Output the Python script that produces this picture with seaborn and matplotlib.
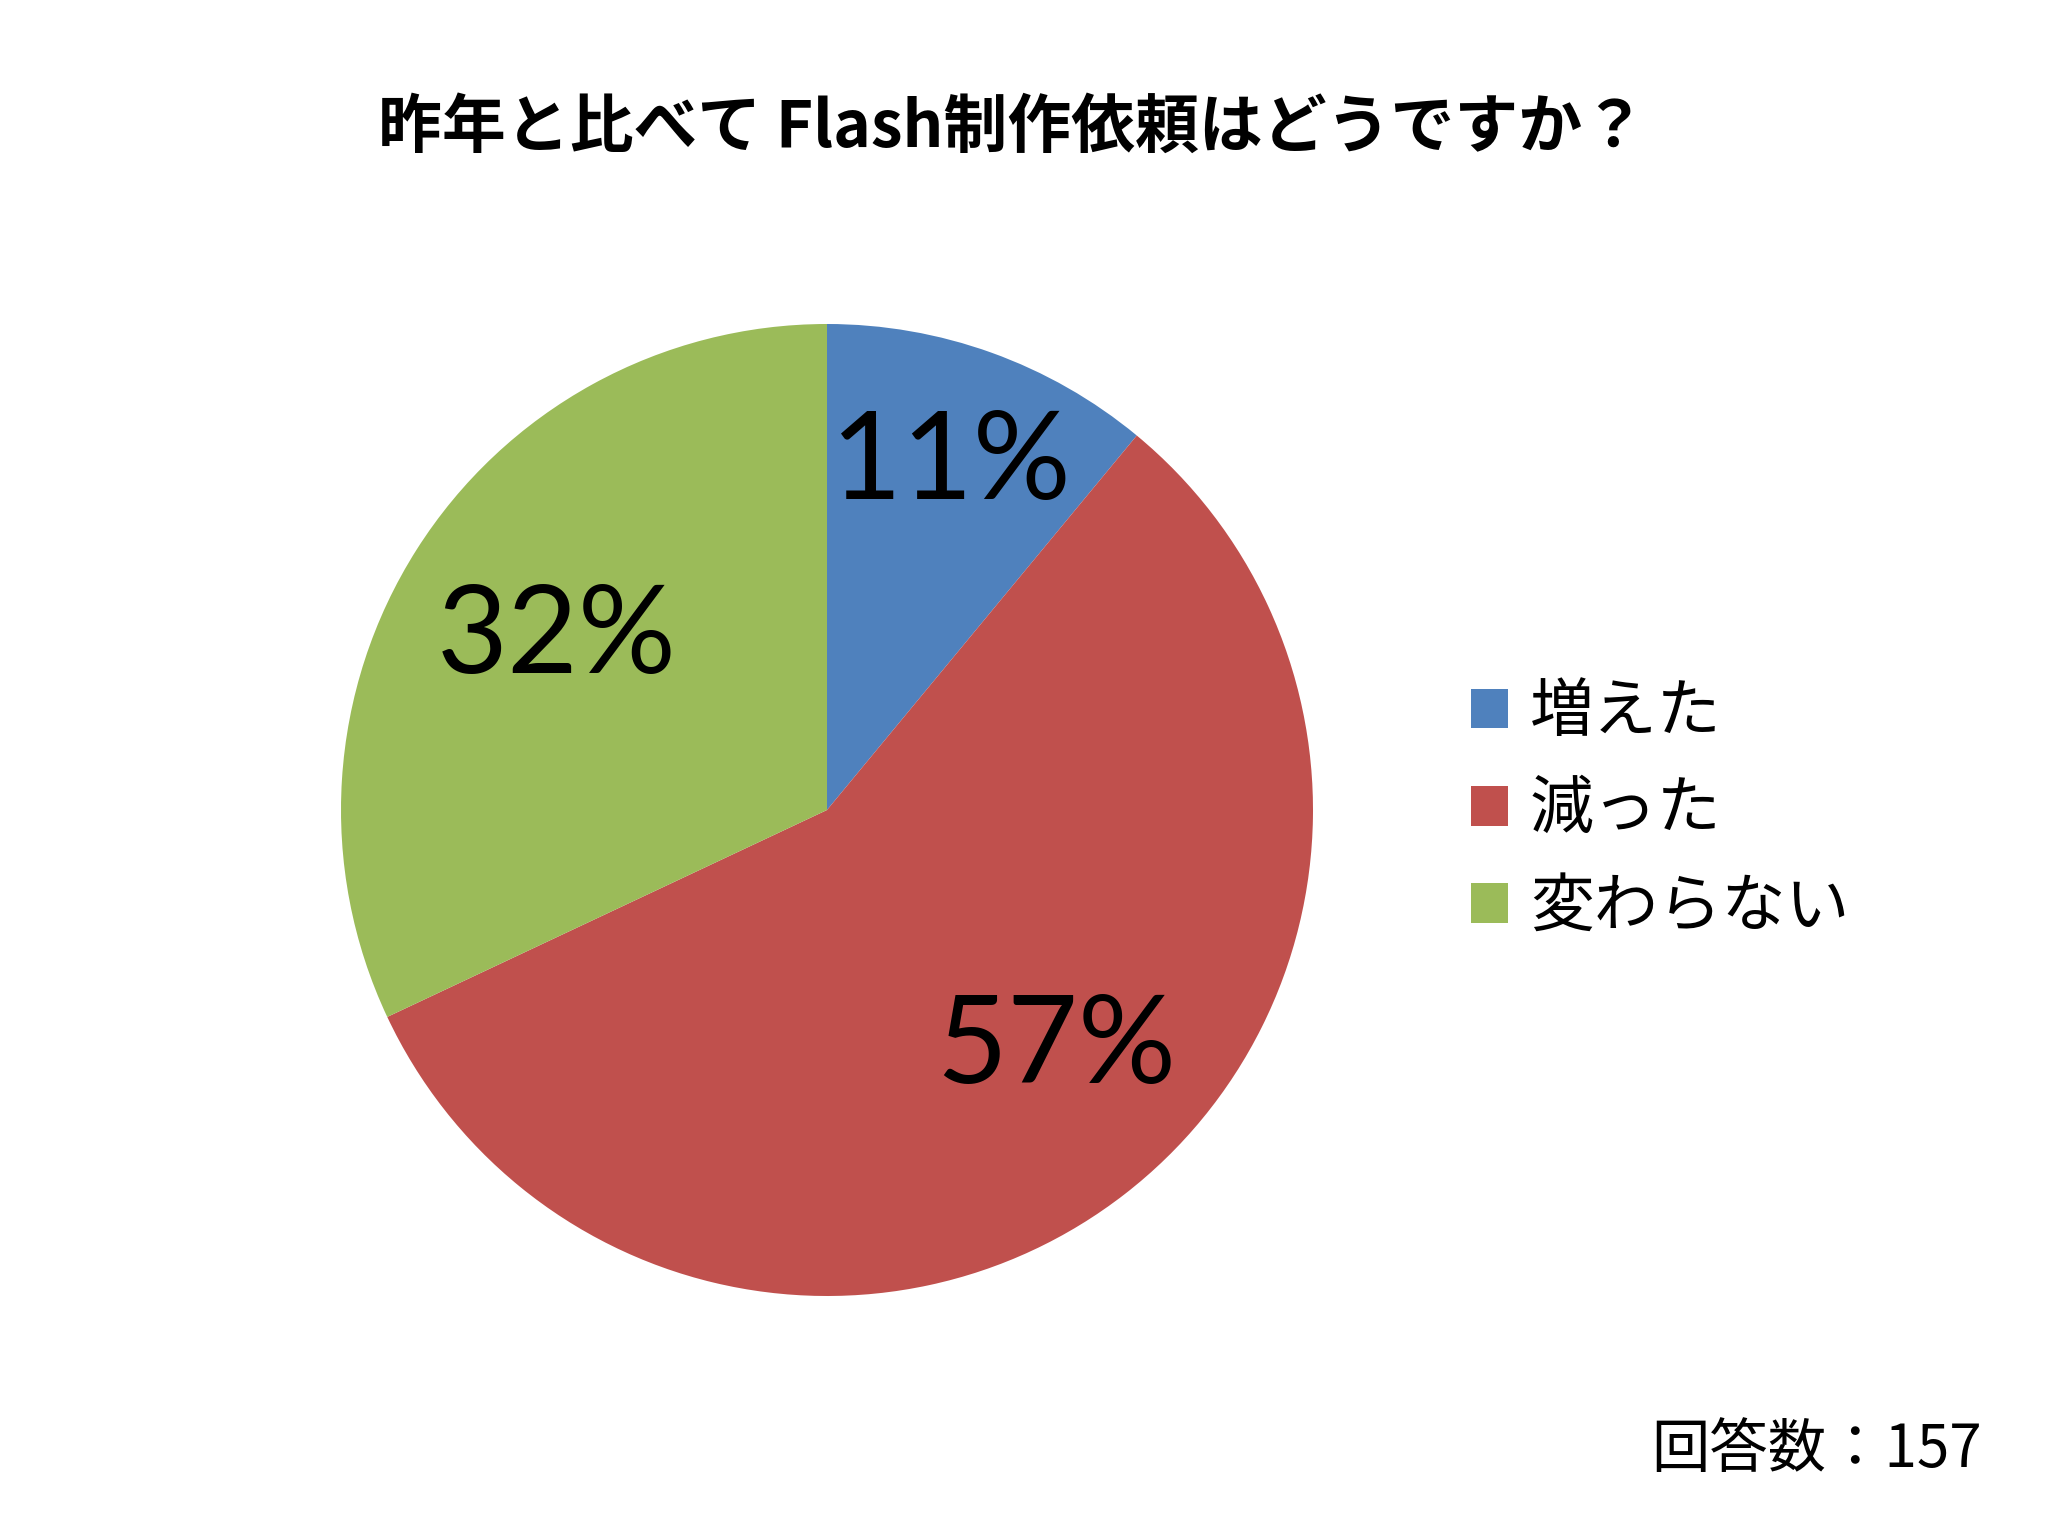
import matplotlib
matplotlib.use("Agg")
import matplotlib.pyplot as plt
import matplotlib.patches as mpatches
import numpy as np
import seaborn as sns

# ---- data ----
categories = ["増えた", "減った", "変わらない"]
percents = [11, 57, 32]
colors = ["#4F81BD", "#C0504D", "#9BBB59"]
title_text = "昨年と比べて Flash制作依頼はどうですか？"
note_text = "回答数：157"

sns.set_theme(style="white")
plt.rcParams['font.family'] = ['Noto Sans CJK JP', 'DejaVu Sans']
plt.rcParams['text.color'] = 'black'

W, H = 2048, 1536
fig = plt.figure(figsize=(W / 100, H / 100), dpi=100)
fig.patch.set_facecolor("white")

cx, cy, r = 827, 810, 486
ax = fig.add_axes([(cx - r) / W, 1 - (cy + r) / H, 2 * r / W, 2 * r / H])
wedges, _ = ax.pie(percents, colors=colors, startangle=90, counterclock=False,
                   radius=1, wedgeprops=dict(linewidth=0))
ax.set_xlim(-1, 1)
ax.set_ylim(-1, 1)
ax.set_aspect("equal")
ax.axis("off")

label_dist = [0.755, 0.68, 0.66]
label_rot = [0, 6, 0]
for w, p, d, rot in zip(wedges, percents, label_dist, label_rot):
    ang = np.deg2rad((w.theta1 + w.theta2) / 2 + rot)
    ax.text(d * np.cos(ang), d * np.sin(ang), f"{p}%", ha="center", va="center",
            fontsize=88, family=["Lato", "DejaVu Sans"], color="black")

fig.text(1012 / W, 1 - 128 / H, title_text, ha="center", va="center",
         fontsize=46, fontweight="bold", color="black")

handles = [mpatches.Patch(facecolor=c, edgecolor="none") for c in colors]
leg = fig.legend(handles, categories, loc="center left",
                 bbox_to_anchor=(1471 / W, 1 - 810 / H), frameon=False,
                 fontsize=46, handlelength=0.58, handleheight=0.58,
                 handletextpad=0.34, labelspacing=0.48, borderaxespad=0, borderpad=0)
for t in leg.get_texts():
    t.set_color("black")

fig.text(1982 / W, 1 - 1450 / H, note_text, ha="right", va="center", fontsize=42,
         color="black")

fig.savefig("out.png", dpi=100, facecolor="white")
